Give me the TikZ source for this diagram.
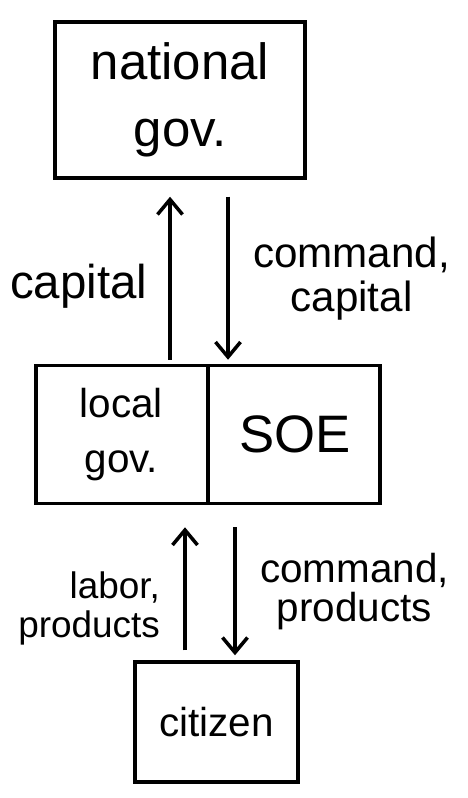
\documentclass[tikz,border=0pt]{standalone}
\usepackage{fontspec}
\setmainfont{Liberation Sans}
\usepackage{tikz}
\usetikzlibrary{positioning,calc,shapes.multipart,arrows.meta}
\tikzset{
    govbox/.style={
        rectangle,
        draw,
        line width=2pt,
        align=center
    },
    splitbox/.style={
        rectangle split,
        rectangle split parts=2,
        rectangle split horizontal,
        draw,
        line width=2pt,
        text width=3.1cm,
        inner xsep=0.15cm,
        minimum height=2.76cm,
        align=center
    },
    ptr/.style={
        -{Straight Barb[length=3mm,width=5mm]},
        line width=2pt
    },
    flowlabel/.style={
        font=\fontsize{24}{25}\selectfont
    }
}

\begin{document}
\begin{tikzpicture}
    \useasboundingbox (0,0) rectangle (9.34,15.96);

    \node[govbox, minimum width=5cm, minimum height=3.12cm,
          font=\fontsize{29}{38}\selectfont] (gov) at (3.6,13.96) {national\\gov.};
    \node[splitbox, below=3.68cm of gov, xshift=0.56cm,
          font=\fontsize{23}{31}\selectfont] (mid)
          {local\\gov. \nodepart{second} \fontsize{30}{36}\selectfont SOE};
    \node[govbox, minimum width=3.26cm, minimum height=2.4cm, below=3.1cm of mid, xshift=0.17cm,
          font=\fontsize{23}{26}\selectfont] (cit) {citizen};

    % gov <-> local gov / SOE
    \draw[ptr] ($(mid.north)+(-0.76,0.08)$) -- ($(mid.north |- gov.south)+(-0.76,-0.34)$)
        node[midway, left=0.3cm, yshift=-0.15cm, flowlabel, font=\fontsize{27}{28}\selectfont] {capital};
    \draw[ptr] ($(mid.north |- gov.south)+(0.4,-0.34)$) -- ($(mid.north)+(0.4,0.08)$)
        node[midway, right=0.35cm, flowlabel, align=center] {command,\\capital};

    % local gov / SOE <-> citizen
    \draw[ptr] ($(cit.north -| mid.south)+(-0.46,0.2)$) -- ($(mid.south)+(-0.46,-0.44)$)
        node[midway, left=0.35cm, yshift=-0.4cm, flowlabel, font=\fontsize{21}{22}\selectfont, align=right] {labor,\\products};
    \draw[ptr] ($(mid.south)+(0.54,-0.44)$) -- ($(cit.north -| mid.south)+(0.54,0.1)$)
        node[midway, right=0.35cm, flowlabel, font=\fontsize{23}{22}\selectfont, align=center] {command,\\products};
\end{tikzpicture}
\end{document}
